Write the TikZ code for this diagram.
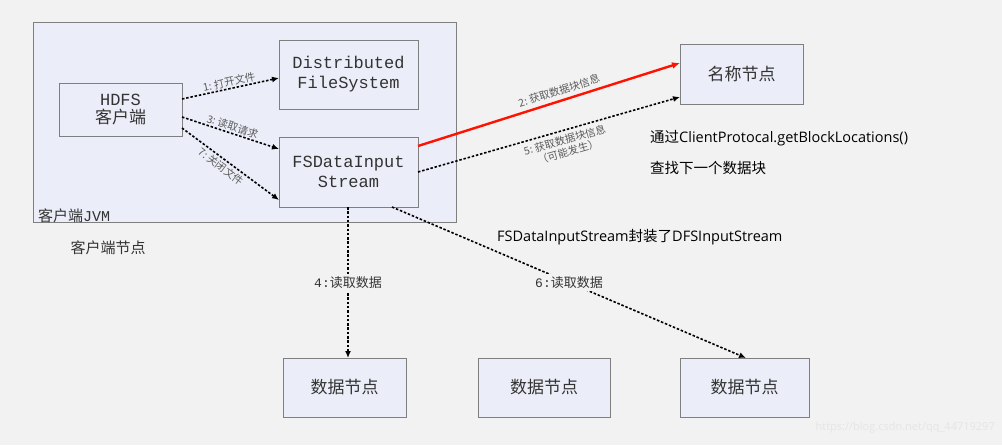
\documentclass[tikz,border=0pt]{standalone}
\usepackage{fontspec}
\setmainfont{Liberation Mono}
\newfontfamily\cjk{Noto Sans CJK SC}
\newfontfamily\sans{Open Sans}
\usetikzlibrary{arrows.meta}
\definecolor{bg}{HTML}{F2F2F2}
\definecolor{boxf}{HTML}{EBEEF8}
\definecolor{boxd}{HTML}{7F7F7F}
\definecolor{txt}{HTML}{333333}
\begin{document}
\begin{tikzpicture}[x=1pt,y=-1pt,
 box/.style={draw=boxd,fill=boxf,line width=0.8pt,align=center,text=txt,font=\fontsize{17}{20}\selectfont,inner sep=0pt},
 da/.style={dash pattern=on 2.5pt off 1.8pt,line width=1.6pt,-{Latex[length=7pt,width=6pt]}},
 lab/.style={font=\cjk\fontsize{10.5}{12}\selectfont,text=txt!80,inner sep=1pt}]
\fill[bg] (0,0) rectangle (1002,445);
\useasboundingbox (0,0) rectangle (1002,445);
\node[box,minimum width=423pt,minimum height=200pt] (jvm) at (244.5,122) {};
\node[anchor=south west,font=\cjk\fontsize{15}{17}\selectfont,text=txt,inner sep=0pt] (jvml) at (38,223) {客户端{\rmfamily JVM}};
\node[font=\cjk\fontsize{15}{17}\selectfont,text=txt] (cn) at (108,248) {客户端节点};
\node[box,minimum width=123pt,minimum height=53pt] (hdfs) at (120.5,109.5) {HDFS\\[-2pt]{\cjk 客户端}};
\node[box,minimum width=139pt,minimum height=69pt] (dfs) at (348.5,74.5) {Distributed\\FileSystem};
\node[box,minimum width=139pt,minimum height=70pt] (fsd) at (348.5,172) {FSDataInput\\Stream};
\node[box,minimum width=123pt,minimum height=60pt,font=\cjk\fontsize{17}{20}\selectfont] (nn) at (741.5,74) {名称节点};
\node[box,minimum width=123pt,minimum height=59pt,font=\cjk\fontsize{17}{20}\selectfont] (d1) at (344.5,387.5) {数据节点};
\node[box,minimum width=132pt,minimum height=59pt,font=\cjk\fontsize{17}{20}\selectfont] (d2) at (544,387.5) {数据节点};
\node[box,minimum width=129pt,minimum height=59pt,font=\cjk\fontsize{17}{20}\selectfont] (d3) at (744.5,387.5) {数据节点};
\coordinate (h1) at (182,99); \coordinate (f1) at (279,78);
\coordinate (h3) at (182,117); \coordinate (f3) at (279,149);
\coordinate (h7) at (182,128); \coordinate (f7) at (279,200);
\draw[da] (h1) -- node[lab,sloped,above]{1:\ 打开文件} (f1);
\draw[da] (h3) -- node[lab,sloped,above]{3:\ 读取请求} (f3);
\draw[da] (h7) -- node[lab,sloped,below,pos=0.45,yshift=-1pt]{7:\ 关闭文件} (f7);
\coordinate (r0) at (418,146); \coordinate (r1) at (680,63);
\draw[red!85!orange,line width=2.4pt,-{Latex[length=8pt,width=7pt]}] (r0) -- node[lab,sloped,above,pos=0.55,yshift=3pt]{2:\ 获取数据块信息} (r1);
\coordinate (s0) at (418,172); \coordinate (s1) at (680,97);
\draw[da] (s0) -- node[lab,sloped,below,pos=0.55,align=center,yshift=-3pt]{5:\ 获取数据块信息\\（可能发生）} (s1);
\coordinate (a0) at (348,207); \coordinate (a1) at (348,358);
\draw[da] (a0) -- node[fill=bg,font=\fontsize{13}{15}\selectfont,text=txt,inner sep=2pt]{4:{\cjk 读取数据}} (a1);
\coordinate (b0) at (392,207); \coordinate (b1) at (746,358);
\draw[da] (b0) -- node[fill=bg,font=\fontsize{13}{15}\selectfont,text=txt,inner sep=2pt]{6:{\cjk 读取数据}} (b1);
\node[anchor=west,font=\cjk\fontsize{14.5}{17}\selectfont,inner sep=0pt] (t1) at (650,138) {通过{\sans ClientProtocal.getBlockLocations()}};
\node[anchor=west,font=\cjk\fontsize{14.5}{17}\selectfont,inner sep=0pt] (t2) at (650,168) {查找下一个数据块};
\node[anchor=west,font=\cjk\fontsize{14.5}{17}\selectfont,inner sep=0pt] (t3) at (497,237) {{\sans FSDataInputStream}封装了{\sans DFSInputStream}};
\node[anchor=east,font=\sans\fontsize{11}{13}\selectfont,text=white!80!gray,inner sep=0pt] (wm) at (995,428) {https://blog.csdn.net/qq\_44719297};
\end{tikzpicture}
\end{document}
